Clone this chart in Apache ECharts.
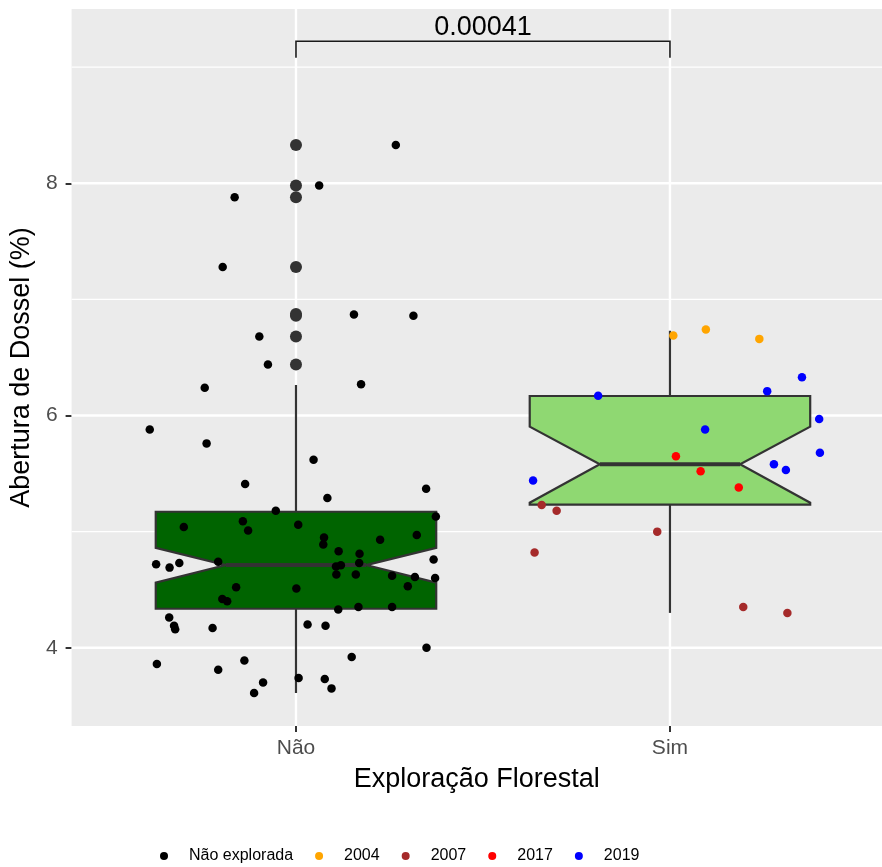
<!DOCTYPE html>
<html>
<head>
<meta charset="utf-8">
<script src="https://cdn.jsdelivr.net/npm/echarts@6/dist/echarts.min.js"></script>
<style>
  html, body { margin: 0; padding: 0; background: #ffffff; }
  #chart { width: 882px; height: 867px; }
</style>
</head>
<body>
<div id="chart"></div>
<script>
// Categories on the x axis
const categories = ['Não', 'Sim'];

// Y axis breaks
const yMajor = [4, 6, 8];
const yMinor = [5, 7, 9];

// Notched box statistics:
// [lowerWhisker, q1, notchLow, median, notchHigh, q3, upperWhisker]
const boxNao = [3.61, 4.336, 4.560, 4.712, 4.861, 5.171, 6.263];
const boxSim = [4.30, 5.232, 5.249, 5.580, 5.904, 6.168, 6.730];
const boxFills = ['#006400', '#8FD872'];

// Outliers of the "Não" group
const outliersNao = [8.33, 7.98, 7.88, 7.28, 6.875, 6.86, 6.68, 6.44];

// Jittered observations: [horizontal jitter from the category, value]
const naoExplorada = [
  [0.267, 8.33], [0.062, 7.98], [-0.164, 7.88], [-0.196, 7.28], [0.155, 6.87],
  [0.314, 6.86], [-0.098, 6.68], [-0.075, 6.44], [-0.244, 6.24], [0.174, 6.27],
  [-0.391, 5.88], [-0.239, 5.76], [0.047, 5.62], [-0.136, 5.41], [0.348, 5.37],
  [0.084, 5.29], [-0.054, 5.18], [0.374, 5.13], [-0.300, 5.04], [-0.142, 5.09],
  [-0.128, 5.01], [0.006, 5.06], [0.075, 4.95], [0.073, 4.89], [0.225, 4.93],
  [0.323, 4.97], [0.114, 4.83], [0.170, 4.81], [-0.374, 4.72], [-0.338, 4.69],
  [-0.312, 4.73], [-0.208, 4.74], [0.107, 4.70], [0.120, 4.71], [0.169, 4.73],
  [0.368, 4.76], [0.108, 4.63], [0.160, 4.63], [0.257, 4.62], [0.318, 4.61],
  [0.372, 4.60], [0.299, 4.53], [-0.160, 4.52], [0.001, 4.51], [-0.197, 4.42],
  [-0.184, 4.40], [0.113, 4.33], [0.167, 4.35], [0.257, 4.35], [-0.339, 4.26],
  [-0.326, 4.19], [-0.323, 4.16], [-0.223, 4.17], [0.031, 4.20], [0.079, 4.19],
  [0.349, 4.00], [-0.372, 3.86], [-0.208, 3.81], [-0.138, 3.89], [0.149, 3.92],
  [0.007, 3.74], [0.077, 3.73], [0.095, 3.65], [-0.088, 3.70], [-0.112, 3.61]
];
const ano2004 = [[0.009, 6.69], [0.096, 6.74], [0.239, 6.66]];
const ano2007 = [[-0.343, 5.23], [-0.303, 5.18], [-0.034, 5.00], [-0.362, 4.82], [0.196, 4.35], [0.314, 4.30]];
const ano2017 = [[0.016, 5.65], [0.082, 5.52], [0.184, 5.38]];
const ano2019 = [
  [0.353, 6.33], [0.260, 6.21], [-0.192, 6.17], [0.399, 5.97], [0.094, 5.88],
  [0.401, 5.68], [0.278, 5.58], [0.310, 5.53], [-0.366, 5.44]
];

// Significance bracket: p value, bracket height, tip bottom
const pValue = '0.00041';
const bracketTop = 9.223;
const bracketTip = 9.082;

// Axis ranges (discrete x expanded by 0.6 on the left; right side cut at the page edge)
const xMin = 0.4, xMax = 2.567;
const yMin = 3.326, yMax = 9.501;

const FONT = "'Liberation Sans', Arial, sans-serif";

const onCat = (rows, cat) => rows.map(r => [cat + r[0], r[1]]);

const chart = echarts.init(document.getElementById('chart'), null, { renderer: 'canvas' });

const pointStyle = color => ({ color: color, opacity: 1 });

const option = {
  animation: false,
  backgroundColor: '#ffffff',
  textStyle: { fontFamily: FONT },
  grid: {
    left: 71.6, top: 9, right: 0, height: 717,
    show: true, backgroundColor: '#EBEBEB', borderWidth: 0
  },
  xAxis: {
    type: 'value', min: xMin, max: xMax,
    name: 'Exploração Florestal', nameLocation: 'middle', nameGap: 40,
    nameTextStyle: { fontSize: 27, color: '#000000', fontFamily: FONT },
    axisLine: { show: false },
    splitLine: { show: false },
    axisTick: { show: true, customValues: [1, 2], length: 6, lineStyle: { color: '#333333', width: 2 } },
    axisLabel: {
      customValues: [1, 2], margin: 12, fontSize: 21, color: '#4D4D4D', fontFamily: FONT,
      formatter: v => categories[Math.round(v) - 1] || ''
    }
  },
  yAxis: {
    type: 'value', min: yMin, max: yMax,
    name: 'Abertura de Dossel (%)', nameLocation: 'middle', nameGap: 27,
    nameTextStyle: { fontSize: 27, color: '#000000', fontFamily: FONT },
    axisLine: { show: false },
    splitLine: { show: false },
    axisTick: { show: true, customValues: yMajor, length: 6, lineStyle: { color: '#333333', width: 2 } },
    axisLabel: {
      customValues: yMajor, margin: 14, fontSize: 21, color: '#4D4D4D', fontFamily: FONT,
      formatter: v => String(v)
    }
  },
  legend: {
    left: 155, top: 843,
    selectedMode: false,
    icon: 'circle', itemWidth: 8, itemHeight: 8, itemGap: 22,
    textStyle: { fontSize: 16, color: '#000000', fontFamily: FONT, padding: [0, 0, 0, 16] },
    data: ['Não explorada', '2004', '2007', '2017', '2019']
  },
  series: [
    {
      // panel grid lines
      type: 'custom', name: 'grade', z: 1, silent: true,
      data: yMajor.map(v => [v, 2.4]).concat(yMinor.map(v => [v, 1.3])),
      renderItem: (params, api) => {
        const v = api.value(0);
        const a = api.coord([xMin, v]);
        const b = api.coord([xMax, v]);
        return { type: 'line', shape: { x1: a[0], y1: a[1], x2: b[0], y2: b[1] },
                 style: { stroke: '#FFFFFF', lineWidth: api.value(1) } };
      }
    },
    {
      type: 'custom', name: 'gradeX', z: 1, silent: true,
      data: [[1], [2]],
      renderItem: (params, api) => {
        const x = api.value(0);
        const a = api.coord([x, yMin]);
        const b = api.coord([x, yMax]);
        return { type: 'line', shape: { x1: a[0], y1: a[1], x2: b[0], y2: b[1] },
                 style: { stroke: '#FFFFFF', lineWidth: 2.4 } };
      }
    },
    {
      // notched boxplots
      type: 'custom', name: 'caixas', z: 2, silent: true,
      data: [[1].concat(boxNao, [0]), [2].concat(boxSim, [1])],
      renderItem: (params, api) => {
        const x = api.value(0);
        const wl = api.value(1), q1 = api.value(2), nl = api.value(3), med = api.value(4),
              nh = api.value(5), q3 = api.value(6), wh = api.value(7);
        const fill = boxFills[api.value(8)];
        const hw = 0.375, nw = 0.1875;
        const P = (dx, y) => api.coord([x + dx, y]);
        const top = P(0, wh), q3c = P(0, q3), q1c = P(0, q1), bot = P(0, wl);
        const poly = [P(-hw, q3), P(hw, q3), P(hw, nh), P(nw, med), P(hw, nl),
                      P(hw, q1), P(-hw, q1), P(-hw, nl), P(-nw, med), P(-hw, nh)];
        const m1 = P(-nw, med), m2 = P(nw, med);
        return {
          type: 'group',
          children: [
            { type: 'line', shape: { x1: top[0], y1: top[1], x2: q3c[0], y2: q3c[1] },
              style: { stroke: '#333333', lineWidth: 2.2 } },
            { type: 'line', shape: { x1: q1c[0], y1: q1c[1], x2: bot[0], y2: bot[1] },
              style: { stroke: '#333333', lineWidth: 2.2 } },
            { type: 'polygon', shape: { points: poly },
              style: { fill: fill, stroke: '#333333', lineWidth: 2.2, lineJoin: 'miter' } },
            { type: 'line', shape: { x1: m1[0], y1: m1[1], x2: m2[0], y2: m2[1] },
              style: { stroke: '#333333', lineWidth: 4 } }
          ]
        };
      }
    },
    {
      type: 'scatter', name: 'outliers', z: 2, silent: true,
      symbol: 'circle', symbolSize: 12,
      itemStyle: pointStyle('#333333'),
      data: outliersNao.map(v => [1, v])
    },
    {
      type: 'scatter', name: 'Não explorada', z: 3, symbolSize: 8.5,
      itemStyle: pointStyle('#000000'), data: onCat(naoExplorada, 1)
    },
    {
      type: 'scatter', name: '2004', z: 3, symbolSize: 8.5,
      itemStyle: pointStyle('#FFA500'), data: onCat(ano2004, 2)
    },
    {
      type: 'scatter', name: '2007', z: 3, symbolSize: 8.5,
      itemStyle: pointStyle('#A52A2A'), data: onCat(ano2007, 2)
    },
    {
      type: 'scatter', name: '2017', z: 3, symbolSize: 8.5,
      itemStyle: pointStyle('#FF0000'), data: onCat(ano2017, 2)
    },
    {
      type: 'scatter', name: '2019', z: 3, symbolSize: 8.5,
      itemStyle: pointStyle('#0000FF'), data: onCat(ano2019, 2)
    },
    {
      // significance bracket with p value
      type: 'custom', name: 'teste', z: 4, silent: true,
      data: [[1, 2, bracketTop, bracketTip]],
      renderItem: (params, api) => {
        const x1 = api.value(0), x2 = api.value(1), yt = api.value(2), yb = api.value(3);
        const a = api.coord([x1, yb]), b = api.coord([x1, yt]),
              c = api.coord([x2, yt]), d = api.coord([x2, yb]);
        return {
          type: 'group',
          children: [
            { type: 'polyline', shape: { points: [a, b, c, d] },
              style: { stroke: '#1a1a1a', lineWidth: 1.6, fill: null } },
            { type: 'text', x: (b[0] + c[0]) / 2, y: b[1],
              style: { text: pValue, fill: '#000000', fontSize: 27, fontFamily: FONT,
                       align: 'center', verticalAlign: 'bottom' } }
          ]
        };
      }
    }
  ]
};

chart.setOption(option);
</script>
</body>
</html>
